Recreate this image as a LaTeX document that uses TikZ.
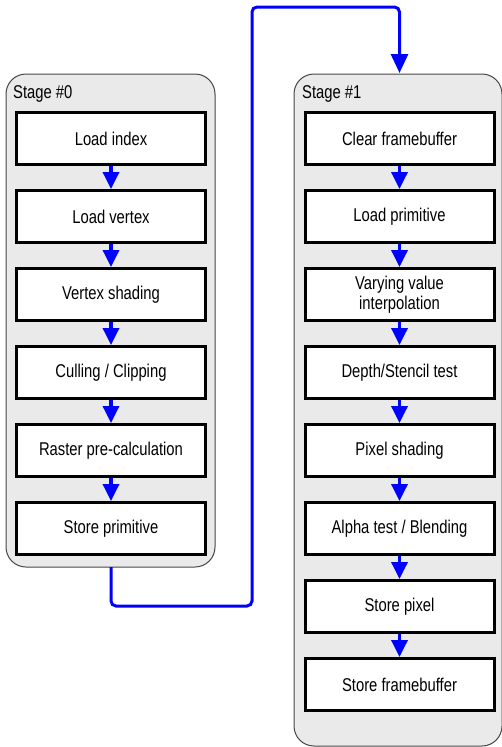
\documentclass[tikz,border=0pt]{standalone}
\usepackage{fontspec}
\setmainfont{Liberation Sans}[FakeStretch=0.8]
\usetikzlibrary{arrows.meta}
\definecolor{stagefill}{RGB}{234,234,234}
\definecolor{stageedge}{RGB}{70,70,70}
\definecolor{flowblue}{RGB}{0,0,255}
\begin{document}
\begin{tikzpicture}[x=1pt,y=-1pt,
  stagebox/.style={draw=stageedge, line width=1pt, fill=stagefill, rounded corners=20pt},
  stagelabel/.style={anchor=north west, inner sep=0pt, font=\fontsize{18.5}{21}\selectfont},
  opbox/.style={draw=black, line width=3pt, fill=white, minimum width=189pt, minimum height=52pt,
    inner sep=0pt, align=center, font=\fontsize{18.5}{20.5}\selectfont},
  flow/.style={draw=flowblue, line width=3.5pt, -{Triangle[length=17pt,width=16pt]}},
  link/.style={draw=flowblue, line width=3pt, rounded corners=5pt, -{Triangle[length=19pt,width=17pt]}}]
\useasboundingbox (0,0) rectangle (501,747);

% stage containers
\path[stagebox] (6,74) rectangle (215,567);
\path[stagebox] (294,74) rectangle (502,746);
\node[stagelabel] (s0) at (13,85) {Stage \#0};
\node[stagelabel] (s1) at (302,85) {Stage \#1};

% stage 0 operations
\node[opbox] (a1) at (111,138.5) {Load index};
\node[opbox] (a2) at (111,216.5) {Load vertex};
\node[opbox] (a3) at (111,294.5) {Vertex shading};
\node[opbox] (a4) at (111,372.5) {Culling / Clipping};
\node[opbox] (a5) at (111,450.5) {Raster pre-calculation};
\node[opbox] (a6) at (111,528.5) {Store primitive};

% stage 1 operations
\node[opbox] (b1) at (399.5,138.5) {Clear framebuffer};
\node[opbox] (b2) at (399.5,216.5) {Load primitive};
\node[opbox] (b3) at (399.5,294.5) {Varying value\\interpolation};
\node[opbox] (b4) at (399.5,372.5) {Depth/Stencil test};
\node[opbox] (b5) at (399.5,450.5) {Pixel shading};
\node[opbox] (b6) at (399.5,528.5) {Alpha test / Blending};
\node[opbox] (b7) at (399.5,606.5) {Store pixel};
\node[opbox] (b8) at (399.5,684.5) {Store framebuffer};

% arrows inside the stages
\foreach \u/\v in {a1/a2,a2/a3,a3/a4,a4/a5,a5/a6,b1/b2,b2/b3,b3/b4,b4/b5,b5/b6,b6/b7,b7/b8}
  \draw[flow] (\u.south) -- (\v.north);

% hand-off from stage 0 to stage 1
\coordinate (out0) at (111,567);
\coordinate (in1) at (399.5,73);
\draw[link] (out0) -- (111,606) -- (252,606) -- (252,7) -- (399.5,7) -- (in1);
\end{tikzpicture}
\end{document}
